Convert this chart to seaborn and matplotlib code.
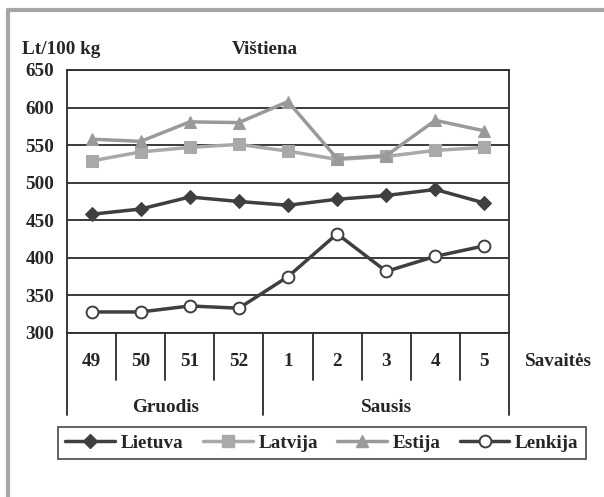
# Vištiena - weekly prices, Baltic states and Poland

import pandas as pd
import numpy as np
import matplotlib.pyplot as plt
import seaborn as sns
from matplotlib.lines import Line2D


# -------------------------------
# Data
# -------------------------------

weeks = ["49", "50", "51", "52", "1", "2", "3", "4", "5"]
months = ["Gruodis", "Sausis"]
month_spans = [(0, 3), (4, 8)]

lietuva = [458, 465, 481, 475, 470, 478, 483, 491, 473]
latvija = [529, 541, 547, 551, 542, 531, 535, 543, 547]
estija = [558, 555, 581, 580, 608, 532, 536, 583, 569]
lenkija = [328, 328, 336, 333, 375, 432, 382, 402, 416]

series_names = ["Lietuva", "Latvija", "Estija", "Lenkija"]
series_values = [lietuva, latvija, estija, lenkija]

y_ticks = [300, 350, 400, 450, 500, 550, 600, 650]

FS = 13.8


# -------------------------------
# Style
# -------------------------------

sns.set_style("white")
plt.rcParams["font.family"] = ["Liberation Serif", "DejaVu Serif"]
plt.rcParams["font.weight"] = "bold"

styles = {
    "Lietuva": dict(color="#3f3f3f", marker="D", markersize=7,
                    markerfacecolor="#3f3f3f", markeredgecolor="#3f3f3f"),
    "Latvija": dict(color="#a9a9a9", marker="s", markersize=9,
                    markerfacecolor="#a9a9a9", markeredgecolor="#a9a9a9"),
    "Estija": dict(color="#9a9a9a", marker="^", markersize=9,
                   markerfacecolor="#9a9a9a", markeredgecolor="#9a9a9a"),
    "Lenkija": dict(color="#3f3f3f", marker="o", markersize=8.5,
                    markerfacecolor="white", markeredgecolor="#3f3f3f",
                    markeredgewidth=1.4),
}


# -------------------------------
# Plot
# -------------------------------

fig = plt.figure(figsize=(6.04, 4.97), dpi=100)
ax = fig.add_axes([67 / 604, 1 - 333 / 497, 442 / 604, 263 / 497])

for name, vals in zip(series_names, series_values):
    df = pd.DataFrame({"week": weeks, "value": vals})
    sns.lineplot(
        data=df,
        x="week",
        y="value",
        ax=ax,
        linewidth=2.5,
        label=name,
        sort=False,
        **styles[name]
    )

ax.set_xlim(-0.5, len(weeks) - 0.5)
ax.set_ylim(300, 650)
ax.set_yticks(y_ticks)
ax.set_xticks([])
ax.set_xlabel("")
ax.set_ylabel("")
ax.grid(axis="y", color="#2b2b2b", linewidth=1.3)
ax.set_axisbelow(True)

for s in ax.spines.values():
    s.set_color("#2b2b2b")
    s.set_linewidth(1.3)

ax.tick_params(axis="y", length=7, width=1.3, color="#2b2b2b",
               direction="out", labelsize=FS, pad=2)
for lab in ax.get_yticklabels():
    lab.set_fontweight("bold")

ax.get_legend().remove()


# -------------------------------
# Category axis below the plot
# -------------------------------

trans = ax.get_xaxis_transform()
inner_bottom = -47 / 263
outer_bottom = -82 / 263

group_edges = [-0.5] + [b + 0.5 for (a, b) in month_spans]
for i in range(len(weeks) + 1):
    xe = i - 0.5
    yb = outer_bottom if xe in group_edges else inner_bottom
    ax.plot([xe, xe], [0, yb], transform=trans, color="#2b2b2b",
            linewidth=1.3, clip_on=False)

for i, w in enumerate(weeks):
    ax.text(i, -29 / 263, w, transform=trans, ha="center", va="center",
            fontsize=FS, fontweight="bold")

for m, (a, b) in zip(months, month_spans):
    ax.text((a + b) / 2, -75 / 263, m, transform=trans, ha="center",
            va="center", fontsize=FS, fontweight="bold")

ax.text(1.035, -29 / 263, "Savaitės", transform=ax.transAxes, ha="left",
        va="center", fontsize=FS, fontweight="bold")


# -------------------------------
# Titles
# -------------------------------

fig.text(22 / 604, 1 - 50 / 497, "Lt/100 kg", ha="left", va="center",
         fontsize=FS, fontweight="bold")
fig.text(265 / 604, 1 - 50 / 497, "Vištiena", ha="center", va="center",
         fontsize=FS, fontweight="bold")


# -------------------------------
# Legend
# -------------------------------

handles = [Line2D([], [], linewidth=2.5, **styles[n]) for n in series_names]
leg = fig.legend(
    handles,
    series_names,
    loc="center",
    bbox_to_anchor=(322 / 604, 1 - 443 / 497),
    ncol=4,
    frameon=True,
    fancybox=False,
    edgecolor="#2b2b2b",
    handlelength=2.6,
    handletextpad=0.3,
    columnspacing=1.0,
    borderpad=0.4,
    prop={"weight": "bold", "size": FS},
)
leg.get_frame().set_linewidth(1.3)


# -------------------------------
# Outer gray frame
# -------------------------------

fx = 8 / 604
fy = 1 - 10 / 497
fig.add_artist(Line2D([fx, fx], [0, fy], transform=fig.transFigure,
                      color="#a6a6a6", linewidth=3))
fig.add_artist(Line2D([fx, 1], [fy, fy], transform=fig.transFigure,
                      color="#a6a6a6", linewidth=3))


fig.savefig("out.png", dpi=100)
